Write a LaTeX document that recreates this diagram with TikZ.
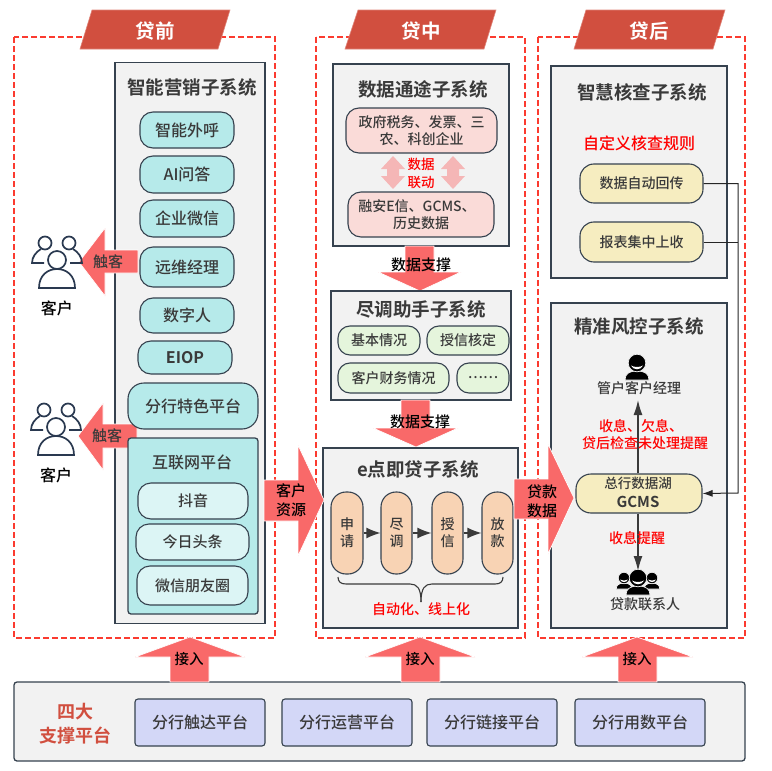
\documentclass[tikz,border=0pt]{standalone}
\usepackage{fontspec}
\setmainfont{Noto Sans CJK SC}[UprightFont=* Medium,BoldFont=* Bold]
\usetikzlibrary{arrows.meta}
\definecolor{framered}{HTML}{FB3B30}
\definecolor{bannerred}{HTML}{D14F3F}
\definecolor{fatred}{HTML}{F96969}
\definecolor{paneledge}{HTML}{36424F}
\definecolor{panelfill}{HTML}{F2F2F2}
\definecolor{ink}{HTML}{3A3A3A}
\definecolor{cyanfill}{HTML}{B6EAEA}
\definecolor{cyanpale}{HTML}{DCF5F5}
\definecolor{rosefill}{HTML}{FADBD8}
\definecolor{rosearrow}{HTML}{F5B6B6}
\definecolor{greenfill}{HTML}{E5F5DC}
\definecolor{orangefill}{HTML}{F8D3B4}
\definecolor{sandfill}{HTML}{F6EDC0}
\definecolor{bluefill}{HTML}{D3D7F7}
\definecolor{clientblue}{HTML}{2A3950}
\tikzset{
  wh/.style 2 args={minimum width=#1,minimum height=#2},
  t14/.style={font=\fontsize{14}{17}\selectfont},
  t15/.style={font=\fontsize{15}{19}\selectfont},
  t16/.style={font=\fontsize{16}{19}\selectfont},
  frame/.style={draw=framered,dashed,dash pattern=on 6pt off 3pt,line width=1.3pt},
  banner/.style={fill=bannerred,draw=bannerred!70!white,line width=.6pt},
  bannertext/.style={text=white,font=\fontsize{19.5}{22}\selectfont\bfseries,inner sep=0},
  panel/.style={draw=paneledge,fill=panelfill,line width=1.3pt,inner sep=0},
  title/.style={text=ink,font=\fontsize{18.5}{22}\selectfont\bfseries,inner sep=0},
  pill/.style={draw=paneledge,line width=1.1pt,rounded corners=13pt,inner sep=0,align=center,text=ink},
  tealpill/.style={pill,fill=cyanfill,t16},
  palepill/.style={pill,fill=cyanpale,t15},
  rosepill/.style={pill,fill=rosefill,t14},
  greenpill/.style={pill,fill=greenfill,t14,rounded corners=12pt},
  orangepill/.style={pill,fill=orangefill,t14,rounded corners=15pt},
  sandpill/.style={pill,fill=sandfill,t14,rounded corners=14pt},
  bluebox/.style={draw=paneledge,fill=bluefill,line width=1.1pt,rounded corners=3pt,inner sep=0,t16,text=ink},
  fat/.style={fill=fatred,draw=white,line width=.7pt},
  fattext/.style={t15,inner sep=0,align=center,text=black},
  redtext/.style={t14,inner sep=0,align=center,text=red},
  plain/.style={t14,inner sep=0,text=ink},
  flow/.style={-{Latex[length=15pt,width=9pt]},draw=ink,line width=1.4pt},
  stepline/.style={-{Latex[length=14pt,width=11pt]},draw=ink,line width=1.4pt},
  clients/.pic={
    \draw[clientblue,line width=1.7pt,fill=white] (-12,-17) circle (6.5) (12,-17) circle (6.5);
    \draw[clientblue,line width=1.7pt] (-13,3) -- (-25,3) .. controls (-25,-3) and (-21,-8) .. (-16,-11);
    \draw[clientblue,line width=1.7pt] (13,3) -- (25,3) .. controls (25,-3) and (21,-8) .. (16,-11);
    \draw[clientblue,line width=1.7pt,fill=white] (-18,28) .. controls (-18,15) and (-9,9) .. (0,9) .. controls (9,9) and (18,15) .. (18,28) -- cycle;
    \draw[clientblue,line width=1.7pt,fill=white] (0,0) circle (9);
  },
  agent/.pic={
    \filldraw[fill=black,draw=panelfill,line width=.7pt] (-12,17) .. controls (-12,11) and (-8,8) .. (0,8) .. controls (8,8) and (12,11) .. (12,17) -- cycle;
    \filldraw[fill=black,draw=panelfill,line width=.7pt] (0,0) circle (8.8);
    \fill[white] (-6,2.5) .. controls (-4,7.5) and (4,7.5) .. (6,2.5) .. controls (3,4.5) and (-3,4.5) .. (-6,2.5) -- cycle;
  },
}
\begin{document}
\begin{tikzpicture}[x=1pt,y=-1pt]
\useasboundingbox (0,0) rectangle (772,771);
% phase frames
\draw[frame] (14,37) rectangle (275,638);
\draw[frame] (316,37) rectangle (525,638);
\draw[frame] (538,37) rectangle (745,638);
\draw[banner] (92,10) -- (230,10) -- (218,49) -- (80,49) -- cycle;
\draw[banner] (358,10) -- (496,10) -- (484,49) -- (345,49) -- cycle;
\draw[banner] (586,10) -- (725,10) -- (713,49) -- (574,49) -- cycle;
\node[bannertext](before)at(155,31){贷前};
\node[bannertext](during)at(421,31){贷中};
\node[bannertext](after)at(649,31){贷后};

% marketing
\node[panel,wh={150}{561}](mkt)at(190,343){};
\node[title](mkttitle)at(192,87.5){智能营销子系统};
\draw[fat] (138,250) -- (105,250) -- (105,228) -- (79,262) -- (105,296) -- (105,273) -- (138,273) -- cycle;
\draw[fat] (137,424) -- (103,424) -- (103,403) -- (78,436) -- (103,470) -- (103,448) -- (137,448) -- cycle;
\node[fattext,text=ink](touch1)at(108,262){触客};
\node[fattext,text=ink](touch2)at(107,436){触客};
\node[tealpill,wh={94}{36}](call)at(187,130){智能外呼};
\node[tealpill,wh={94}{37}](ai)at(187,174.5){AI问答};
\node[tealpill,wh={94}{37}](wecom)at(187,218.5){企业微信};
\node[tealpill,wh={94}{40}](remote)at(187,267){远维经理};
\node[tealpill,wh={94}{35}](human)at(187,315.5){数字人};
\node[tealpill,wh={94}{33}](eiop)at(185,357.5){\bfseries EIOP};
\node[tealpill,wh={130}{46},rounded corners=16pt](branch)at(193,406){分行特色平台};
\node[panel,fill=cyanfill,wh={130}{176},rounded corners=3pt](net)at(193,526){};
\node[t16,text=ink,inner sep=0](nettitle)at(192,462){互联网平台};
\node[palepill,wh={110}{36}](douyin)at(193,501){抖音};
\node[palepill,wh={113}{36}](toutiao)at(192.5,542){今日头条};
\node[palepill,wh={111}{39}](moments)at(192.5,585.5){微信朋友圈};
\pic at (57,260) {clients};
\pic at (56,427) {clients};
\node[t16,text=black,inner sep=0](cust1)at(57,308){客户};
\node[t16,text=black,inner sep=0](cust2)at(56,475){客户};

% data usage
\node[panel,wh={176}{182}](data)at(421,155){};
\node[title](datatitle)at(423,89.5){数据通途子系统};
\node[rosepill,wh={151}{45}](gov)at(421.5,130.5){政府税务、发票、三\\农、科创企业};
\node[rosepill,wh={146}{45}](own)at(421,214.5){融安E信、GCMS、\hspace*{8pt}\\历史数据};
\fill[rosearrow] (393,156) -- (405,169) -- (399,169) -- (399,176) -- (405,176) -- (393,189) -- (381,176) -- (387,176) -- (387,169) -- (381,169) -- cycle;
\fill[rosearrow] (453,156) -- (465,169) -- (459,169) -- (459,176) -- (465,176) -- (453,189) -- (441,176) -- (447,176) -- (447,169) -- (441,169) -- cycle;
\node[redtext,font=\fontsize{13.5}{18}\selectfont](link)at(421,173){数据\\联动};
\draw[fat] (405,246) -- (434,246) -- (434,272) -- (461,272) -- (420,291) -- (378,272) -- (405,272) -- cycle;
\node[fattext](support1)at(421,265){数据支撑};

% due diligence
\node[panel,wh={180}{109}](dd)at(421,345.5){};
\node[title](ddtitle)at(421,309.5){尽调助手子系统};
\node[greenpill,wh={82}{29}](basic)at(379,340.5){基本情况};
\node[greenpill,wh={82}{29}](credit)at(468,340.5){授信核定};
\node[greenpill,wh={111}{30}](finance)at(393.5,378){客户财务情况};
\node[greenpill,wh={52}{30}](more)at(483,378){……};
\draw[fat] (401,400) -- (430,400) -- (430,428) -- (458,428) -- (416,447) -- (373,428) -- (401,428) -- cycle;
\node[fattext](support2)at(420,422){数据支撑};

% e loan
\node[panel,wh={195}{180}](eloan)at(420.5,538){};
\node[title](eloantitle)at(418,469.5){e点即贷子系统};
\node[orangepill,wh={32}{82}](apply)at(347,533){申\\请};
\node[orangepill,wh={31}{82}](survey)at(396.5,533){尽\\调};
\node[orangepill,wh={31}{82}](grant)at(447.5,533){授\\信};
\node[orangepill,wh={31}{82}](pay)at(497.5,533){放\\款};
\draw[stepline] (apply) -- (survey);
\draw[stepline] (survey) -- (grant);
\draw[stepline] (grant) -- (pay);
\draw[draw=ink,line width=1.1pt] (338,577) .. controls (338,582) and (341,584) .. (346,584) -- (410,584) .. controls (417,584) and (421,588) .. (421,602);
\draw[draw=ink,line width=1.1pt] (503,577) .. controls (503,582) and (500,584) .. (495,584) -- (432,584) .. controls (425,584) and (421,588) .. (421,602);
\node[redtext](auto)at(421,609){自动化、线上化};

% customer and loan flows
\draw[fat] (264,480) -- (298,480) -- (298,445) -- (324,500) -- (298,556) -- (298,521) -- (264,521) -- cycle;
\node[fattext](custsrc)at(291,500.5){客户\\资源};

% check
\node[panel,wh={176}{212}](check)at(639,172){};
\node[title](checktitle)at(642,92.5){智慧核查子系统};
\node[t16,text=red,inner sep=0](rules)at(639,143){自定义核查规则};
\node[sandpill,wh={123}{39}](autoback)at(641.5,183.5){数据自动回传};
\node[sandpill,wh={123}{40}](report)at(641.5,242){报表集中上收};

% risk
\node[panel,wh={176}{325}](risk)at(639,465.5){};
\node[title](risktitle)at(639,326){精准风控子系统};
\pic at (637,363) {agent};
\node[plain](manager)at(639,388){管户客户经理};
\node[sandpill,wh={126}{39},rounded corners=15pt](gcms)at(639,493.5){};
\node[plain,font=\fontsize{13.5}{16}\selectfont](lake)at(638,483){总行数据湖};
\node[plain,font=\fontsize{15}{18}\selectfont\bfseries](gcmstext)at(638,502){GCMS};
\coordinate (mgrfoot) at (638,400);
\coordinate (teamtop) at (638,571);
\draw[flow] (gcms.north -| mgrfoot) -- (mgrfoot);
\draw[flow] (gcms.south -| teamtop) -- (teamtop);
\node[redtext](remind1)at(641,426){收息、欠息、};
\node[redtext](remind2)at(645,443){贷后检查未处理提醒};
\node[redtext](remind3)at(637,538){收息提醒};
\pic[scale=.65] at (624,578) {agent};
\pic[scale=.65] at (652,578) {agent};
\pic at (638,578) {agent};
\node[plain](contact)at(645,604){贷款联系人};
\coordinate (bus) at (738,493);
\draw[draw=black!85,line width=1pt] (report.east) -- (report.east -| bus);
\draw[draw=black!85,line width=1pt,-{Latex[length=10pt,width=7pt]}] (autoback.east) -| (bus) -- (gcms.east);
\draw[fat] (514,479) -- (548,479) -- (548,444) -- (574,498) -- (548,554) -- (548,519) -- (514,519) -- cycle;
\node[fattext](loandata)at(542,501.5){贷款\\数据};

% bottom platform
\node[panel,wh={731}{79},rounded corners=3pt](base)at(379.5,721.5){};
\node[t16,font=\fontsize{18}{24}\selectfont\bfseries,text=bannerred,inner sep=0,align=center](four)at(75,724){四大\\支撑平台};
\node[bluebox,wh={130}{47}](reach)at(200,722.5){分行触达平台};
\node[bluebox,wh={130}{47}](oper)at(347,722.5){分行运营平台};
\node[bluebox,wh={130}{47}](linkp)at(492,722.5){分行链接平台};
\node[bluebox,wh={130}{47}](usep)at(640,722.5){分行用数平台};
\draw[fat] (170,682) -- (170,657) -- (135,657) -- (190,637) -- (245,657) -- (209,657) -- (209,682) -- cycle;
\draw[fat] (401,682) -- (401,657) -- (365,657) -- (420,637) -- (475,657) -- (440,657) -- (440,682) -- cycle;
\draw[fat] (618,682) -- (618,657) -- (582,657) -- (637,637) -- (693,657) -- (657,657) -- (657,682) -- cycle;
\node[fattext,font=\fontsize{14.5}{17}\selectfont](in1)at(189,659.5){接入};
\node[fattext,font=\fontsize{14.5}{17}\selectfont](in2)at(420,659.5){接入};
\node[fattext,font=\fontsize{14.5}{17}\selectfont](in3)at(637,659.5){接入};
\end{tikzpicture}
\end{document}
